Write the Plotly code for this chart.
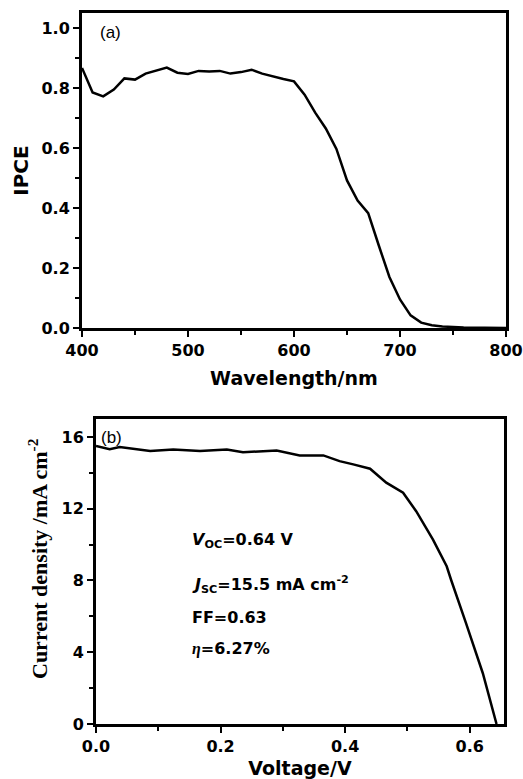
import plotly.graph_objects as go

# Panel (a): IPCE spectrum
wavelength = [400, 410, 420, 430, 440, 450, 460, 470, 480, 490, 500, 510, 520, 530, 540,
              550, 560, 570, 580, 590, 600, 610, 620, 630, 640, 650, 660, 670, 680, 690,
              700, 710, 720, 730, 740, 750, 760, 780, 800]
ipce = [0.867, 0.785, 0.772, 0.795, 0.832, 0.828, 0.848, 0.857, 0.868, 0.851, 0.847, 0.857,
        0.855, 0.857, 0.848, 0.853, 0.861, 0.848, 0.838, 0.830, 0.822, 0.778, 0.718, 0.665,
        0.597, 0.492, 0.425, 0.383, 0.275, 0.170, 0.095, 0.042, 0.018, 0.009, 0.005, 0.003,
        0.002, 0.001, 0.0]

# Panel (b): J-V curve
voltage = [0.0, 0.022, 0.038, 0.060, 0.087, 0.124, 0.167, 0.210, 0.236, 0.290, 0.327, 0.365,
           0.391, 0.413, 0.440, 0.466, 0.493, 0.514, 0.541, 0.563, 0.570, 0.594, 0.621, 0.643]
current = [15.49, 15.31, 15.44, 15.35, 15.21, 15.30, 15.21, 15.30, 15.15, 15.24, 14.97, 14.97,
           14.65, 14.47, 14.23, 13.45, 12.89, 11.86, 10.28, 8.79, 8.04, 5.62, 2.83, 0.0]

x1_ticks = [400, 500, 600, 700, 800]
y1_ticks = [0.0, 0.2, 0.4, 0.6, 0.8, 1.0]
x2_ticks = [0.0, 0.2, 0.4, 0.6]
y2_ticks = [0, 4, 8, 12, 16]

W, H = 523, 779
BOLD = "DejaVu Sans"
fig = go.Figure()
fig.add_trace(go.Scatter(x=wavelength, y=ipce, mode="lines",
                         line=dict(color="black", width=2.5), xaxis="x", yaxis="y",
                         showlegend=False))
fig.add_trace(go.Scatter(x=voltage, y=current, mode="lines",
                         line=dict(color="black", width=2.5), xaxis="x2", yaxis="y2",
                         showlegend=False))

def px_x(p):
    return p / W

def px_y(p):
    return 1 - p / H

minor_common = dict(ticks="outside", ticklen=4, tickwidth=2, tickcolor="black")
common = dict(showline=True, linecolor="black", linewidth=3, mirror=True,
              ticks="outside", ticklen=6, tickwidth=2, tickcolor="black",
              showgrid=False, zeroline=False, automargin=False,
              tickfont=dict(family=BOLD, size=16, color="black", weight="bold"))

fig.update_layout(
    width=W, height=H, margin=dict(l=0, r=0, t=0, b=0, autoexpand=False),
    plot_bgcolor="white", paper_bgcolor="white",
    xaxis=dict(domain=[px_x(82), px_x(506)], range=[400, 800], anchor="y",
               tickvals=x1_ticks, ticktext=[str(v) for v in x1_ticks],
               minor=dict(dtick=50, **minor_common),
               title=dict(text="Wavelength/nm", standoff=13,
                          font=dict(family=BOLD, size=19, color="black", weight="bold")),
               **common),
    yaxis=dict(domain=[px_y(328), px_y(13)], range=[0, 1.05], anchor="x",
               tickvals=y1_ticks, ticktext=["%.1f" % v for v in y1_ticks],
               minor=dict(dtick=0.1, **minor_common),
               title=dict(text="IPCE", standoff=8,
                          font=dict(family=BOLD, size=20, color="black", weight="bold")),
               **common),
    xaxis2=dict(domain=[px_x(96), px_x(504)], range=[0, 0.655], anchor="y2",
                tickvals=x2_ticks, ticktext=["%.1f" % v for v in x2_ticks],
                minor=dict(dtick=0.1, **minor_common),
                title=dict(text="Voltage/V", standoff=11,
                           font=dict(family=BOLD, size=19, color="black", weight="bold")),
                **common),
    yaxis2=dict(domain=[px_y(724), px_y(419)], range=[0, 17], anchor="x2",
                tickvals=y2_ticks, ticktext=[str(v) for v in y2_ticks],
                minor=dict(dtick=2, **minor_common),
                **common),
)

# y-axis title of panel (b), placed as rotated text
fig.add_annotation(text="Current density /mA cm<sup>-2</sup>", xref="paper", yref="paper",
                   x=px_x(38), y=px_y(559), xanchor="center", yanchor="middle",
                   textangle=-90, showarrow=False,
                   font=dict(family="Liberation Serif", size=22, color="black", weight="bold"))

ann_font = dict(family=BOLD, size=16, color="black", weight="bold")
fig.add_annotation(text="(a)", xref="paper", yref="paper", x=px_x(98), y=px_y(33),
                   xanchor="left", yanchor="middle", showarrow=False,
                   font=dict(family="Liberation Sans", size=17, color="black"))
fig.add_annotation(text="(b)", xref="paper", yref="paper", x=px_x(99), y=px_y(437),
                   xanchor="left", yanchor="middle", showarrow=False,
                   font=dict(family="Liberation Sans", size=17, color="black"))
labels = [
    ("<i>V</i><sub>OC</sub>=0.64 V", 540),
    ("<i>J</i><sub>SC</sub>=15.5 mA cm<sup>-2</sup>", 584),
    ("FF=0.63", 617),
    ("<span style='font-family:Liberation Serif'><i>η</i></span>=6.27%", 648),
]
for txt, yp in labels:
    fig.add_annotation(text=txt, xref="paper", yref="paper", x=px_x(190), y=px_y(yp),
                       xanchor="left", yanchor="middle", showarrow=False, font=ann_font)

fig.write_html("out.html")
